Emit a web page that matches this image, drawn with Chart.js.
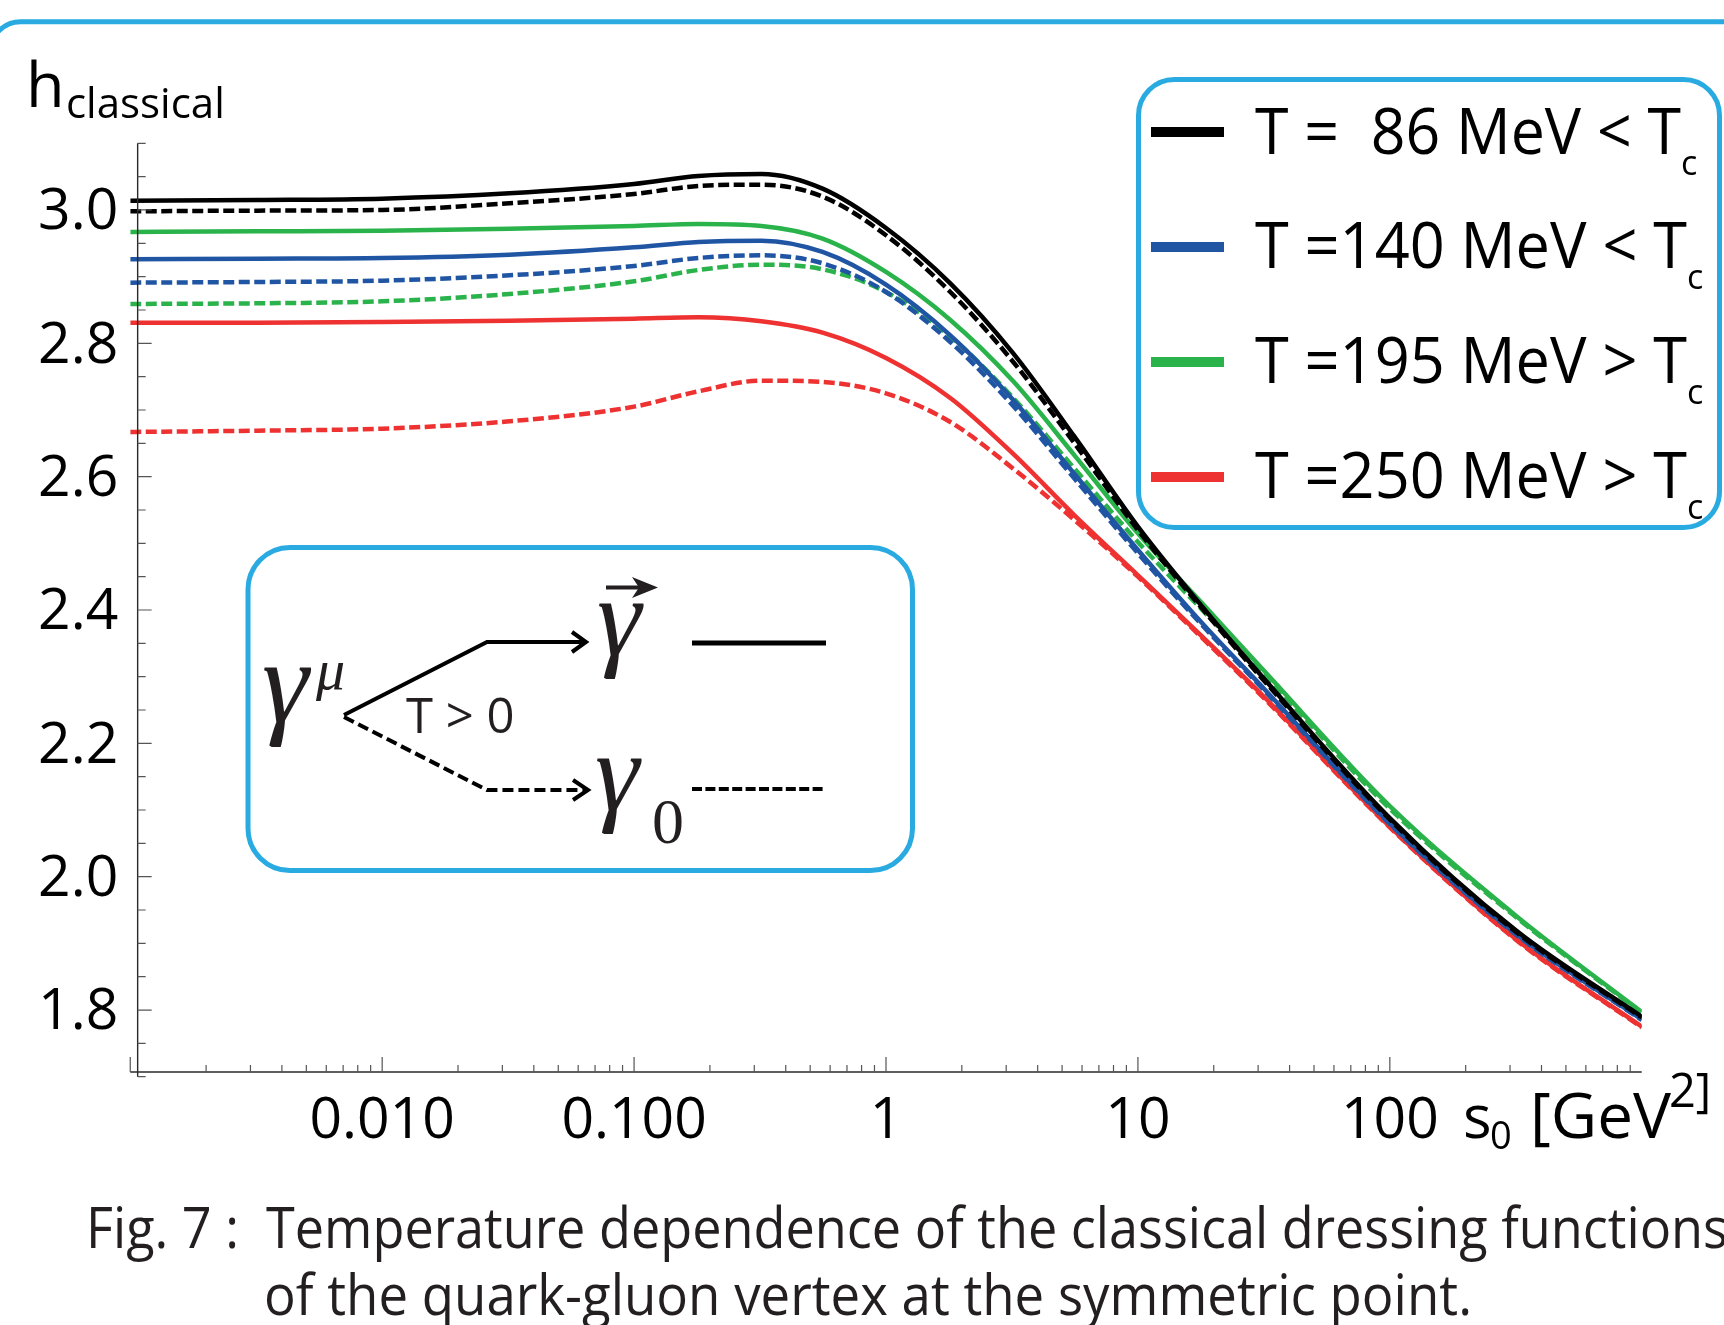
<!DOCTYPE html>
<html>
<head>
<meta charset="utf-8">
<script src="https://cdn.jsdelivr.net/npm/chart.js@4.4.0/dist/chart.umd.min.js"></script>
<style>
  html, body { margin: 0; padding: 0; background: #fff; overflow: hidden; }
  #wrap { position: relative; width: 1724px; height: 1325px; }
  #c { position: absolute; left: 0; top: 0; width: 1724px; height: 1325px; }
  #overlay { position: absolute; left: 0; top: 0; }
  #overlay text { white-space: pre; font-family: 'Open Sans'; }
  #overlay .serif { font-family: 'Liberation Serif'; }
</style>
</head>
<body>
<div id="wrap">
<canvas id="c" width="1724" height="1325"></canvas>
<svg id="overlay" width="1724" height="1325" viewBox="0 0 1724 1325">
  <!-- outer frame, only its top edge is in view -->
  <rect x="-9.5" y="21.7" width="1800" height="1400" rx="30" fill="none" stroke="#29abe2" stroke-width="5"/>

  <!-- axis titles -->
  <text x="26" y="107" font-size="63">h</text>
  <text x="66" y="118" font-size="42">classical</text>
  <text x="1463" y="1138" font-size="60">s</text>
  <text x="1490" y="1149" font-size="38">0</text>
  <text x="1530" y="1138" font-size="62" textLength="141" lengthAdjust="spacingAndGlyphs">[GeV</text>
  <text x="1669" y="1107" font-size="47">2]</text>

  <!-- legend -->
  <rect x="1138.5" y="79.5" width="581" height="448" rx="36" fill="#fff" stroke="#29abe2" stroke-width="5"/>
  <rect x="1151" y="127" width="73" height="10" fill="#000000"/>
  <rect x="1151" y="242" width="73" height="10" fill="#2055a4"/>
  <rect x="1151" y="357" width="73" height="10" fill="#2ab34b"/>
  <rect x="1151" y="472" width="73" height="10" fill="#ee3131"/>
  <text x="1255" y="154" font-size="64" textLength="426" lengthAdjust="spacingAndGlyphs">T =  86 MeV &lt; T</text>
  <text x="1681" y="175" font-size="34">c</text>
  <text x="1255" y="268" font-size="64" textLength="432" lengthAdjust="spacingAndGlyphs">T =140 MeV &lt; T</text>
  <text x="1687" y="289" font-size="34">c</text>
  <text x="1255" y="383" font-size="64" textLength="432" lengthAdjust="spacingAndGlyphs">T =195 MeV &gt; T</text>
  <text x="1687" y="404" font-size="34">c</text>
  <text x="1255" y="498" font-size="64" textLength="432" lengthAdjust="spacingAndGlyphs">T =250 MeV &gt; T</text>
  <text x="1687" y="519" font-size="34">c</text>

  <!-- inset: gamma decomposition -->
  <rect x="248" y="547.5" width="664.5" height="323" rx="42" fill="none" stroke="#29abe2" stroke-width="5"/>
  <text class="serif" x="262" y="722" font-size="118" font-style="italic" fill="#231f20">γ</text>
  <text class="serif" x="316" y="689" font-size="58" font-style="italic" fill="#231f20">μ</text>
  <polyline points="344,715 487,642 584,642" fill="none" stroke="#000" stroke-width="4"/>
  <polyline points="572,632 586,642 572,652" fill="none" stroke="#000" stroke-width="4"/>
  <polyline points="344,717 487,790 586,790" fill="none" stroke="#000" stroke-width="4" stroke-dasharray="11 5"/>
  <polyline points="573,780 588,790 573,800" fill="none" stroke="#000" stroke-width="4"/>
  <text x="406" y="733" font-size="49" fill="#231f20">T &gt; 0</text>
  <text class="serif" x="597" y="655" font-size="112" font-style="italic" fill="#231f20">γ</text>
  <line x1="606" y1="587.5" x2="645" y2="587.5" stroke="#231f20" stroke-width="4"/>
  <polygon points="632,577 658,587.5 632,598 639,587.5" fill="#231f20"/>
  <line x1="692" y1="643" x2="826" y2="643" stroke="#000" stroke-width="5"/>
  <text class="serif" x="595" y="810" font-size="112" font-style="italic" fill="#231f20">γ</text>
  <text class="serif" x="652" y="843" font-size="64" fill="#231f20">0</text>
  <line x1="692" y1="789" x2="826" y2="789" stroke="#000" stroke-width="4" stroke-dasharray="10 3.4"/>

  <!-- caption -->
  <text x="86" y="1248" font-size="56" fill="#231f20" textLength="1642" lengthAdjust="spacingAndGlyphs">Fig. 7 :  Temperature dependence of the classical dressing functions</text>
  <text x="264" y="1315" font-size="56" fill="#231f20" textLength="1208" lengthAdjust="spacingAndGlyphs">of the quark-gluon vertex at the symmetric point.</text>
</svg>
</div>
<script>
// s0 sample points [GeV^2]
const sValues = [0.001, 0.0032, 0.01, 0.032, 0.1, 0.18, 0.32, 0.56, 1, 1.8, 3.2, 5.6, 10, 18, 32, 100, 320, 1000];

// h_classical, solid = spatial part, dashed = temporal part
const h86Solid   = [3.014, 3.015, 3.017, 3.025, 3.039, 3.051, 3.054, 3.032, 2.973, 2.890, 2.785, 2.660, 2.525, 2.405, 2.295, 2.088, 1.918, 1.790];
const h86Dashed  = [2.998, 2.999, 3.000, 3.010, 3.024, 3.036, 3.038, 3.020, 2.962, 2.877, 2.772, 2.650, 2.520, 2.402, 2.292, 2.086, 1.916, 1.789];
const h140Solid  = [2.926, 2.927, 2.928, 2.933, 2.944, 2.952, 2.954, 2.937, 2.888, 2.812, 2.715, 2.604, 2.490, 2.380, 2.280, 2.080, 1.913, 1.786];
const h140Dashed = [2.891, 2.892, 2.894, 2.902, 2.916, 2.928, 2.932, 2.920, 2.877, 2.802, 2.706, 2.597, 2.485, 2.377, 2.278, 2.079, 1.912, 1.785];
const h195Solid  = [2.967, 2.968, 2.969, 2.972, 2.976, 2.979, 2.976, 2.957, 2.907, 2.835, 2.743, 2.632, 2.515, 2.410, 2.307, 2.106, 1.940, 1.797];
const h195Dashed = [2.859, 2.860, 2.863, 2.874, 2.893, 2.910, 2.918, 2.911, 2.877, 2.810, 2.718, 2.612, 2.502, 2.400, 2.302, 2.102, 1.938, 1.796];
const h250Solid  = [2.831, 2.831, 2.832, 2.834, 2.837, 2.839, 2.833, 2.816, 2.778, 2.718, 2.634, 2.542, 2.452, 2.360, 2.268, 2.075, 1.905, 1.775];
const h250Dashed = [2.667, 2.669, 2.672, 2.683, 2.705, 2.728, 2.744, 2.742, 2.725, 2.682, 2.612, 2.535, 2.450, 2.358, 2.266, 2.074, 1.904, 1.774];

// axis ticks
const xDecades = [0.001, 0.01, 0.1, 1, 10, 100];
const xLabelValues = [0.01, 0.1, 1, 10, 100];
const xLabelTexts = ['0.010', '0.100', '1', '10', '100'];
const yLabelValues = [1.8, 2.0, 2.2, 2.4, 2.6, 2.8, 3.0];
const yLabelTexts = ['1.8', '2.0', '2.2', '2.4', '2.6', '2.8', '3.0'];
const yMin = 1.70, yMax = 3.10, yMinorStep = 0.05;
const axisCross = {x: 0.00107, y: 1.707};

const BLACK = '#000000', BLUE = '#2055a4', GREEN = '#2ab34b', RED = '#ee3131';

let xTickValues = [];
xDecades.forEach(d => {
    for (let k = 1; k <= 9; k++) xTickValues.push(Number((d * k).toPrecision(6)));
});
let yTickValues = [];
for (let v = yMin; v <= yMax + 1e-9; v += yMinorStep) yTickValues.push(Math.round(v * 100) / 100);

function makeSet(name, vals, color, dashed){
    return {
        label: name,
        data: sValues.map((s, i) => ({x: s, y: vals[i]})),
        borderColor: color,
        backgroundColor: color,
        borderWidth: 4.5,
        borderDash: dashed ? [11, 4.5] : [],
        pointRadius: 0,
        fill: false,
        cubicInterpolationMode: 'monotone',
    };
}

function isDecade(v){
    let l = Math.log10(v);
    return Math.abs(l - Math.round(l)) < 1e-6;
}

//Mathematica-style axes: ticks point into the plot
const inwardAxes = {
    id: 'inwardAxes',
    afterDraw(chart){
        const {ctx, scales: {x, y}} = chart;
        const ax = x.getPixelForValue(axisCross.x);
        const ay = y.getPixelForValue(axisCross.y);
        ctx.save();
        ctx.strokeStyle = '#2a2a2a';
        ctx.lineWidth = 1.4;
        ctx.beginPath();
        ctx.moveTo(ax, y.top);
        ctx.lineTo(ax, y.bottom);
        ctx.moveTo(x.left, ay);
        ctx.lineTo(x.right, ay);
        ctx.stroke();

        ctx.strokeStyle = '#555';
        ctx.lineWidth = 1.2;
        ctx.beginPath();
        y.ticks.forEach(t => {
            let py = y.getPixelForValue(t.value);
            let len = t.label ? 14 : 8;
            ctx.moveTo(ax, py);
            ctx.lineTo(ax + len, py);
        });
        x.ticks.forEach(t => {
            let px = x.getPixelForValue(t.value);
            let len = isDecade(t.value) ? 15 : 7;
            ctx.moveTo(px, ay);
            ctx.lineTo(px, ay - len);
        });
        ctx.stroke();
        ctx.restore();
    }
};

const tickFont = {family: 'Open Sans', size: 57, lineHeight: 1};

new Chart(document.getElementById('c'), {
    type: 'line',
    data: {
        datasets: [
            makeSet('T = 86 MeV', h86Solid, BLACK, false),
            makeSet('T = 86 MeV, γ0', h86Dashed, BLACK, true),
            makeSet('T = 195 MeV', h195Solid, GREEN, false),
            makeSet('T = 140 MeV', h140Solid, BLUE, false),
            makeSet('T = 140 MeV, γ0', h140Dashed, BLUE, true),
            makeSet('T = 195 MeV, γ0', h195Dashed, GREEN, true),
            makeSet('T = 250 MeV', h250Solid, RED, false),
            makeSet('T = 250 MeV, γ0', h250Dashed, RED, true),
        ],
    },
    options: {
        responsive: false,
        animation: false,
        devicePixelRatio: 1,
        events: [],
        layout: {padding: {top: 143.3, right: 82.25, bottom: 0, left: 0}},
        plugins: {
            legend: {display: false},
            tooltip: {enabled: false},
        },
        scales: {
            x: {
                type: 'logarithmic',
                min: 0.001,
                max: 1000,
                border: {display: false},
                grid: {display: false, drawTicks: false},
                afterBuildTicks: s => { s.ticks = xTickValues.map(v => ({value: v})); },
                afterFit: s => { s.height = 1325 - 1076.7; },
                ticks: {
                    autoSkip: false,
                    maxRotation: 0,
                    minRotation: 0,
                    padding: 17,
                    color: '#000',
                    font: tickFont,
                    callback: v => {
                        let i = xLabelValues.findIndex(t => Math.abs(t - v) / t < 1e-6);
                        return i >= 0 ? xLabelTexts[i] : '';
                    },
                },
            },
            y: {
                type: 'linear',
                min: yMin,
                max: yMax,
                border: {display: false},
                grid: {display: false, drawTicks: false},
                afterBuildTicks: s => { s.ticks = yTickValues.map(v => ({value: v})); },
                afterFit: s => { s.width = 130.25; },
                ticks: {
                    autoSkip: false,
                    padding: 12,
                    labelOffset: 3,
                    color: '#000',
                    font: tickFont,
                    callback: v => {
                        let i = yLabelValues.findIndex(t => Math.abs(t - v) < 1e-6);
                        return i >= 0 ? yLabelTexts[i] : '';
                    },
                },
            },
        },
    },
    plugins: [inwardAxes],
});
</script>
</body>
</html>
